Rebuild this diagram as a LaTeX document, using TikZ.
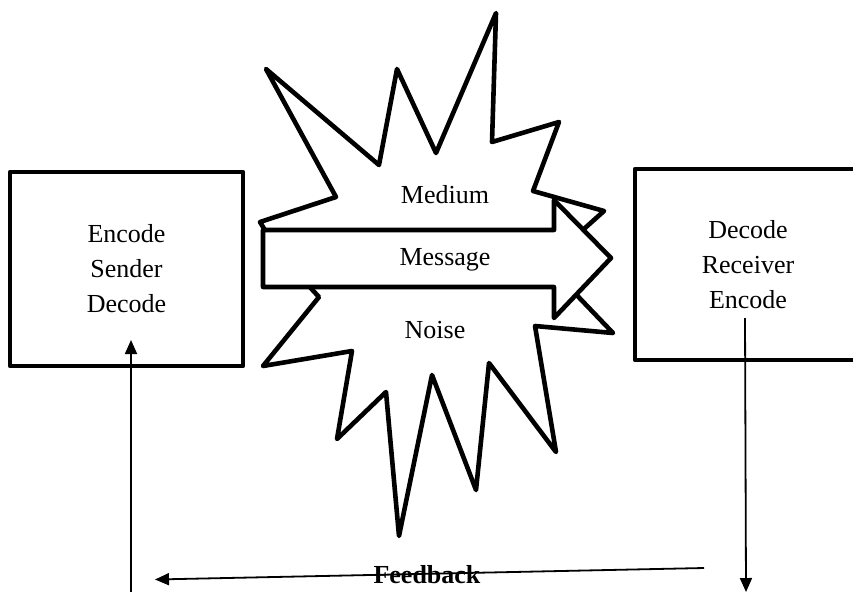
\documentclass[tikz,border=0pt]{standalone}
\usepackage{fontspec}
\setmainfont{Liberation Serif}
\usetikzlibrary{arrows.meta}
\tikzset{
  box/.style={draw=black, line width=4.2pt, line join=round, fill=white, align=center,
    font=\fontsize{26}{35}\selectfont, inner sep=0pt},
  thick outline/.style={draw=black, line width=4.6pt, line join=round, fill=white},
  lbl/.style={font=\fontsize{26}{35}\selectfont, inner sep=0pt},
  fb/.style={draw=black, line width=1.8pt, -{Triangle[length=14pt,width=12pt]}},
}
\begin{document}
\begin{tikzpicture}[x=1pt,y=-1pt]
\useasboundingbox (0,0) rectangle (853,592);
\clip (0,0) rectangle (853,592);
% boxes
\node[box, minimum width=233pt, minimum height=194pt] (sender) at (126.5,269) {Encode\\Sender\\Decode};
\node[box, minimum width=226pt, minimum height=191pt] (receiver) at (748,264.5) {Decode\\Receiver\\Encode};
% explosion (noise)
\path[thick outline] (260,222) -- (336,197) -- (266,69) -- (379,165) -- (397,69) -- (436,153)
  -- (496,13) -- (492,142) -- (559,122) -- (533,191) -- (604,211) -- (546,263)
  -- (613,333) -- (535,326) -- (556,452) -- (489,363) -- (476,490) -- (432,375)
  -- (399,536) -- (386,392) -- (337,439) -- (352,351) -- (263,366) -- (319,297)
  -- (280,255) -- cycle;
% message block arrow
\path[thick outline] (263,230) -- (554,230) -- (554,200) -- (611,258) -- (554,318)
  -- (554,287) -- (263,287) -- cycle;
\node[lbl] (medium) at (445,195) {Medium};
\node[lbl] (message) at (445,260) {Message};
\node[lbl] (noise) at (435,330) {Noise};
% feedback loop
\coordinate (rtop) at (745,318);
\coordinate (rbot) at (746,592);
\coordinate (fbstart) at (704,568);
\coordinate (fbend) at (155,579.5);
\coordinate (lbot) at (131,592);
\coordinate (ltop) at (131,340);
\draw[fb] (rtop) -- (rbot);
\draw[fb] (fbstart) -- (fbend);
\draw[fb] (lbot) -- (ltop);
\node[lbl, font=\fontsize{26}{35}\selectfont\bfseries] (feedback) at (427,575) {Feedback};
\end{tikzpicture}
\end{document}
